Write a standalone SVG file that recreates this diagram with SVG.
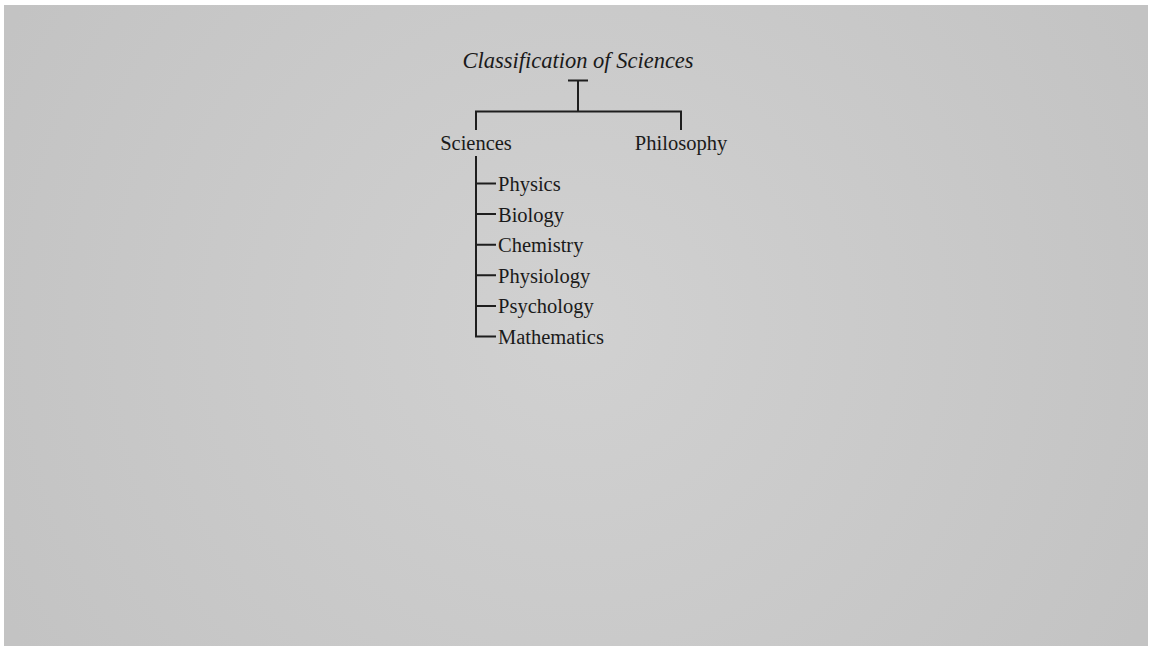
<svg xmlns="http://www.w3.org/2000/svg" width="1151" height="649" viewBox="0 0 1151 649">
  <defs>
    <radialGradient id="bg" cx="576" cy="326" r="640" gradientUnits="userSpaceOnUse">
      <stop offset="0" stop-color="#d1d1d1"/>
      <stop offset="1" stop-color="#c3c3c3"/>
    </radialGradient>
    <style>
      .lbl { font-family: "Liberation Serif", "Times New Roman", serif; font-size: 20.5px; fill: #1a1a1a; }
      .title { font-family: "Liberation Serif", "Times New Roman", serif; font-size: 22.5px; font-style: italic; fill: #1a1a1a; }
      .ln { stroke: #1e1e1e; stroke-width: 2; fill: none; }
    </style>
  </defs>

  <!-- page -->
  <rect width="1151" height="649" fill="#ffffff"/>
  <rect x="4" y="5" width="1144" height="641" fill="url(#bg)"/>

  <!-- connectors -->
  <g id="connectors">
    <path class="ln" d="M568 80.5 H588 M578 80.5 V111.5"/>
    <path class="ln" d="M476 130 V111.5 H681 V130"/>
    <path class="ln" d="M476 156 V336.5 H496"/>
    <path class="ln" d="M476 183.5 H496 M476 214.1 H496 M476 244.7 H496 M476 275.3 H496 M476 305.9 H496"/>
  </g>

  <g id="root">
    <text class="title" x="578" y="68" text-anchor="middle">Classification of Sciences</text>
  </g>
  <g id="sciences">
    <text class="lbl" x="476" y="150" text-anchor="middle">Sciences</text>
  </g>
  <g id="philosophy">
    <text class="lbl" x="681" y="150" text-anchor="middle">Philosophy</text>
  </g>
  <g id="physics"><text class="lbl" x="498" y="191">Physics</text></g>
  <g id="biology"><text class="lbl" x="498" y="221.6">Biology</text></g>
  <g id="chemistry"><text class="lbl" x="498" y="252.2">Chemistry</text></g>
  <g id="physiology"><text class="lbl" x="498" y="282.8">Physiology</text></g>
  <g id="psychology"><text class="lbl" x="498" y="313.4">Psychology</text></g>
  <g id="mathematics"><text class="lbl" x="498" y="344">Mathematics</text></g>
</svg>
